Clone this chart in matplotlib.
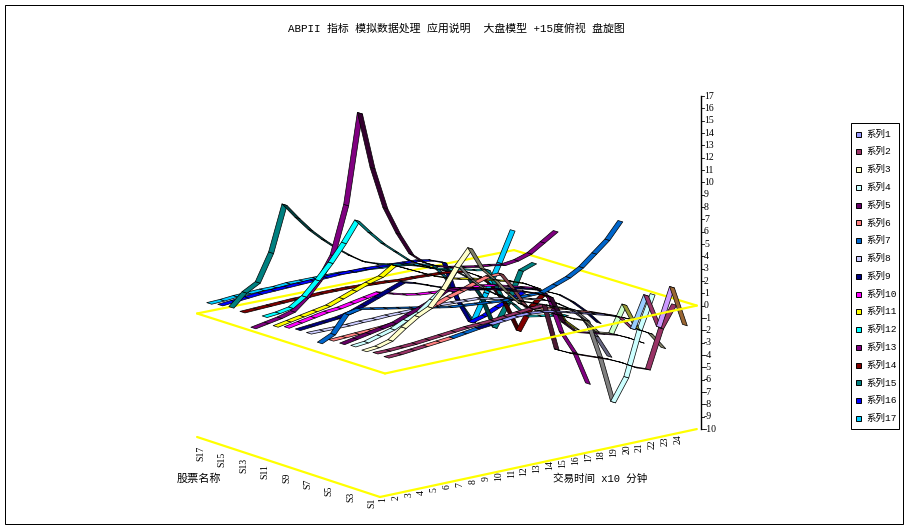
import matplotlib
matplotlib.use("Agg")
import matplotlib.pyplot as plt
from matplotlib.collections import PolyCollection
from matplotlib.patches import Rectangle

S1 = [1.05,1.1,1.2,1.3,1.4,1.5,1.65,1.8,1.9,2,2.1,2.1,2,1.8,1.5,1.2,.9,.6,.2,-1,1.5,-1.3,1.7,-1.6]
S2 = [1.1,1.1,1.15,1.2,1.3,1.4,1.5,1.6,1.65,1.7,1.8,1.9,2,2.05,-1.8,-2.3,-2.7,-3.1,-3.5,-4,-4.6,-5,-1.9,-.2]
S3 = [1,1.1,1.4,2.2,2.9,3.4,4.6,6.2,7.5,5.6,4.5,3.2,2.1,1.4,1,.5,0,-.4,-1.6,-1.9,.2,-2,-2.6,-4]
S4 = [1.1,1.2,1.5,1.8,2.3,2.7,3.5,4.3,5.9,4.5,3.5,2.8,2.2,1.8,1.4,1,.6,.2,-.9,-4.1,-8,-6.2,-2.6,.1]
S5 = [1,1.2,1.4,1.6,1.8,2.2,2.6,3,3.6,3.5,3.3,3,2.7,2.4,2.1,1.7,1.2,-1.1,-2.1,-2.4,-2.7,-3,-3.5,-4.1]
S6 = [1,1.05,1.1,1.15,1.2,1.3,1.5,1.8,2.1,2.5,2.8,3.2,3.5,3.5,2,.3,0,-.2,-.5,-.9,-1.2,-1.6,-2,-2.5]
S7 = [.5,1,2.4,2.6,2.4,2.2,2,1.8,1.6,1.4,1.2,1.1,1,.9,.8,.8,.8,.8,1.2,1.6,2.2,3.1,4,5.3]
S8 = [1,1,1,1,1.05,1.05,1.1,1.1,1.1,1.1,1.1,1.05,1,.95,.7,.5,.3,0,-.3,-.8,-1.5,-2.5,-4.2,-6.1]
S9 = [1,1.1,1.2,1.3,1.5,1.9,2.3,2.7,3.1,2.8,2.4,2,1.7,1.4,1.2,1,.8,.6,.3,-.1,-.6,-1.4,-2.4,-3.6]
S10 = [.9,1.1,1.3,1.5,1.6,1.8,2,2.2,1.9,1.6,1.4,1.3,1.2,1.1,1.05,1,.8,.5,.2,-.1,-1,-4.2,-6.1,-8.9]
S11 = [.7,.9,1.1,1.3,1.5,1.9,2.3,2.7,3,3.7,3.2,2.7,2.2,1.8,1.5,1.3,1,.7,.4,0,-.6,-1.8,-3.7,-4.7]
S12 = [1.2,1.3,1.5,2.2,3.3,4.5,5.9,7.5,6.3,5.2,4.3,3.4,2.8,2.3,2,1.8,1.5,1.3,-1,-2,-3.2,-3.4,-3.6,-3.8]
S13 = [0,.2,.4,.7,1.6,2.8,4.6,8.5,15.8,11.1,7.6,5.3,3.4,2.5,2,1.7,1.5,1.3,1.2,1,1.15,1.5,2.2,2.9]
S14 = [1,1.05,1.1,1.15,1.2,1.2,1.25,1.25,1.25,1.2,1.15,1.1,1,1,.95,.9,.8,.6,0,-1,-2.7,-5.2,-3.4,-2.5]
S15 = [1.1,2.1,2.7,4.9,8.6,7.3,6.1,5.1,4.2,3.4,2.7,2.3,2,1.8,1.5,1.1,.7,.4,-.4,-2.2,-5,-3.2,-.7,-.3]
S16 = [1,1.1,1.2,1.3,1.35,1.4,1.45,1.5,1.55,1.6,1.6,1.6,1.55,1.5,1.45,1.4,1.2,.8,-2.5,-4.6,-4.3,-3.8,-3.4,-3]
S17 = [.85,.9,1,1.05,1.1,1.1,1.2,1.2,1.2,1.2,1.2,1.1,1.1,1,.9,.8,.6,.3,-1,-3.3,-5.1,-2.9,-.6,1.9]
SERIES = [S1,S2,S3,S4,S5,S6,S7,S8,S9,S10,S11,S12,S13,S14,S15,S16,S17]
NAMES = ["系列%d" % (i+1) for i in range(17)]
COLORS = ['#9999FF','#993366','#FFFFCC','#CCFFFF','#660066','#FF8080','#0066CC','#CCCCFF',
          '#000080','#FF00FF','#FFFF00','#00FFFF','#800080','#800000','#008080','#0000FF','#00CCFF']
SHADES = ['#993366','#4d1a33','#808066','#808080','#33062E','#80404a','#003366','#666680',
          '#000040','#800080','#808000','#008080','#33002E','#400000','#004040','#000080','#006680']
FACE_OVERRIDES = {(0,0):'#993366',(0,1):'#993366',(0,2):'#993366',(0,3):'#FF8080',(0,4):'#FF8080',
                  (0,5):'#0066CC',(0,6):'#0066CC',(0,7):'#000080',
                  (0,19):'#99CCFF',(0,21):'#CC99FF',(0,22):'#996633',(2,19):'#CCFFCC',(2,20):'#999933',(2,21):'#999933'}
Z_TICKS = list(range(-10, 18))
T_LABELS = [str(i) for i in range(1, 25)]
S_LABELS = ["S%d" % i for i in range(1, 18, 2)]

CJK = ['Liberation Mono', 'Noto Sans CJK SC']
fig = plt.figure(figsize=(9.08, 5.29), dpi=100)
ax = fig.add_axes([0, 0, 1, 1])
ax.set_xlim(0, 908); ax.set_ylim(529, 0); ax.axis('off')

def project(t, s, z):
    u, v = t/24.0, s/17.0
    f = (z+10)/10.0
    x = 380 + 13.2*t - 10.76*s + 5*f*(1-u)*(1-v)
    y = 497 - 2.83*t - 3.53*s - 12.35*(z+10) + 4.5*f*u*v
    return x, y

YEL = '#FFFF00'
ax.add_patch(Rectangle((5, 5), 898, 519, fill=False, ec='k', lw=0.72))

def edge(p, q, z, order):
    a, b = project(*p, z), project(*q, z)
    ax.plot([a[0], b[0]], [a[1], b[1]], color=YEL, lw=1.6, zorder=order, solid_capstyle='round')

edge((0,17),(24,17),0,1); edge((24,17),(24,0),0,1); edge((0,0),(0,17),0,1)
edge((0,0),(24,0),0,60)
edge((0,0),(0,17),-10,1); edge((0,0),(24,0),-10,1)

W = 0.225
order = 10
for j in range(16, -1, -1):
    vals = SERIES[j]
    quads, faces = [], []
    for i in range(23):
        a0 = project(i+.5, j+.5-W, vals[i]); b0 = project(i+1.5, j+.5-W, vals[i+1])
        b1 = project(i+1.5, j+.5+W, vals[i+1]); a1 = project(i+.5, j+.5+W, vals[i])
        quads.append([a0, b0, b1, a1])
        dx, dy = b0[0]-a0[0], b0[1]-a0[1]
        ox, oy = a1[0]-a0[0], a1[1]-a0[1]
        face = COLORS[j] if dx*oy - dy*ox < 0 else SHADES[j]
        faces.append(FACE_OVERRIDES.get((j, i), face))
    ax.add_collection(PolyCollection(quads, facecolors=faces, edgecolors='k',
                                     linewidths=0.5, zorder=order))
    order += 2

# value axis
x0, y_lo = 701, 429
ax.plot([x0, x0], [96, y_lo], color='k', lw=1.0, zorder=70)
for zv in Z_TICKS:
    y = y_lo - (zv+10)*12.33
    ax.plot([x0, x0+3], [y, y], color='k', lw=.6, zorder=70)
    ax.text(x0+3, y, str(zv), fontsize=7, family='Liberation Serif', va='center', ha='left', zorder=71)

# category labels
for i, lab in enumerate(T_LABELS):
    ax.text(383+12.83*i, 500-2.65*i, lab, rotation=90, fontsize=7, family='Liberation Serif', ha='center', va='center')
for i, lab in enumerate(S_LABELS):
    ax.text(372-21.4*i, 503-6.25*i, lab, rotation=90, fontsize=7, family='Liberation Serif', ha='center', va='center')

ax.text(456, 28.5, "ABPII 指标 模拟数据处理 应用说明  大盘模型 +15度俯视 盘旋图", fontsize=7.85, family=CJK, ha='center', va='center')
ax.text(199, 479, "股票名称", fontsize=8, family=CJK, ha='center', va='center')
ax.text(600, 479, "交易时间 x10 分钟", fontsize=7.6, family=CJK, ha='center', va='center')

# legend
ax.add_patch(Rectangle((851, 123), 48, 306, fill=False, ec='k', lw=0.72))
for j, (n, c) in enumerate(zip(NAMES, COLORS)):
    y = 134 + 17.78*j
    ax.add_patch(Rectangle((856, y-2.5), 5, 5, fc=c, ec='k', lw=.7))
    ax.text(866, y, n, fontsize=6.8, family=CJK, va='center', ha='left')

fig.savefig('out.png', dpi=100)
